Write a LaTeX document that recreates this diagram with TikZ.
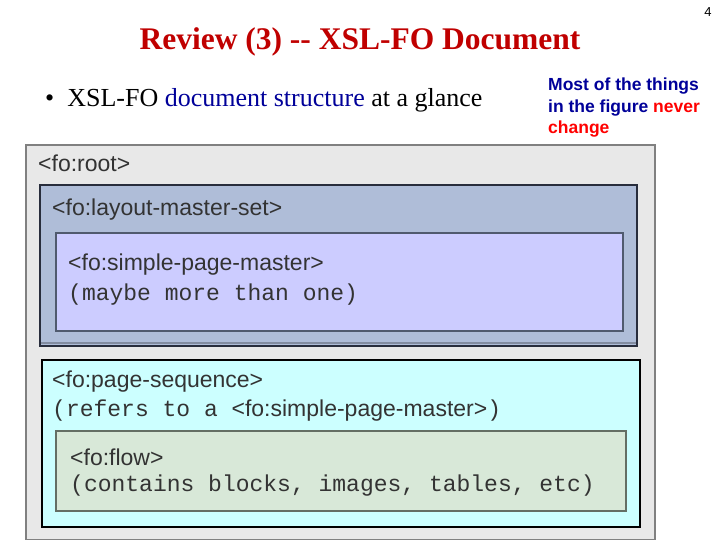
\documentclass[tikz,border=0pt]{standalone}
\usepackage{fontspec}
\setmainfont{Liberation Serif}
\setsansfont{Liberation Sans}
\setmonofont{Liberation Mono}
\definecolor{ttl}{HTML}{C00000}
\definecolor{navy}{HTML}{000099}
\definecolor{txt}{HTML}{333333}
\tikzset{
 lab/.style={anchor=west,inner sep=0pt,text=txt,font=\sffamily\fontsize{23}{23}\selectfont},
 code/.style={anchor=west,inner sep=0pt,text=txt,font=\ttfamily\fontsize{23}{23}\selectfont}}
\begin{document}
\begin{tikzpicture}[x=1pt,y=-1pt]
\useasboundingbox (0,0) rectangle (720,540);
\node (num) at (708,12) {\sffamily\fontsize{13}{13}\selectfont 4};
\node[text=ttl,font=\bfseries\fontsize{31.5}{31.5}\selectfont] (title) at (360,42) {Review (3) {-}{-} XSL-FO Document};
\node[anchor=west,inner sep=0pt,font=\fontsize{26}{26}\selectfont] (bul) at (45,100) {\textbullet\ \ XSL-FO \textcolor{navy}{document structure} at a glance};
\node[anchor=north west,align=left,inner sep=0pt,text=navy,font=\sffamily\bfseries\fontsize{17.5}{21.5}\selectfont] (note) at (548,78) {Most of the things\\in the figure \textcolor{red}{never}\\\textcolor{red}{change}};
\draw[fill={rgb,255:red,232;green,232;blue,232},draw=gray,line width=1.5pt] (26,145) rectangle (655,540);
\node[lab] (root) at (38,163) {<fo:root>};
\draw[fill={rgb,255:red,175;green,189;blue,216},draw={rgb,255:red,40;green,45;blue,60},line width=1.8pt] (40,185) rectangle (637,346);
\draw[draw={rgb,255:red,130;green,140;blue,160},line width=1.2pt] (41,343) -- (636,343);
\node[lab] (lms) at (52,210) {<fo:layout-master-set>};
\draw[fill={rgb,255:red,204;green,204;blue,255},draw={rgb,255:red,80;green,90;blue,110},line width=1.8pt] (56,233) rectangle (623,331);
\node[lab] (spm) at (68,265) {<fo:simple-page-master>};
\node[code] (spm2) at (68,295) {(maybe more than one)};
\draw[fill={rgb,255:red,204;green,255;blue,255},draw=black,line width=1.5pt] (42,360) rectangle (640,527);
\node[lab] (ps) at (52,382) {<fo:page-sequence>};
\node[code] (ps2) at (52,411) {(refers to a \sffamily<fo:simple-page-master>\ttfamily)};
\draw[fill={rgb,255:red,216;green,232;blue,216},draw={rgb,255:red,100;green,110;blue,100},line width=1.8pt] (56,431) rectangle (626,511);
\node[lab] (flow) at (70,457) {<fo:flow>};
\node[code] (flow2) at (70,486) {(contains blocks, images, tables, etc)};
\end{tikzpicture}
\end{document}
